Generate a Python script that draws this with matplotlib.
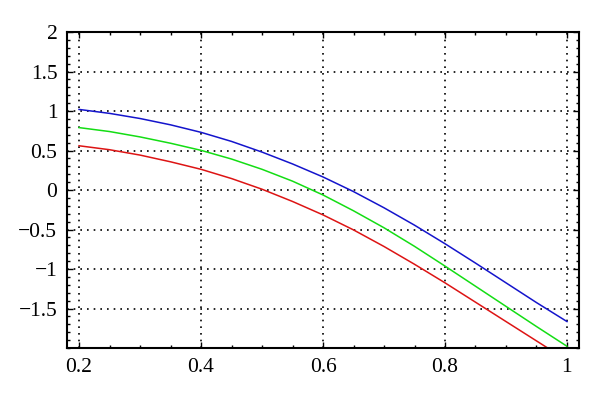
import numpy as np
import matplotlib
matplotlib.use("Agg")
from matplotlib import pyplot as plt
from matplotlib.ticker import MultipleLocator

# values
x = [0.2, 0.25, 0.3, 0.35, 0.4, 0.45, 0.5, 0.55, 0.6, 0.65, 0.7, 0.75, 0.8, 0.85, 0.9, 0.95, 1.0]
blue = [1.02, 0.97, 0.905, 0.825, 0.73, 0.615, 0.48, 0.33, 0.165, -0.02, -0.225, -0.445, -0.68, -0.925, -1.175, -1.425, -1.665]
green = [0.79, 0.74, 0.672, 0.592, 0.502, 0.392, 0.262, 0.112, -0.063, -0.263, -0.478, -0.713, -0.963, -1.218, -1.473, -1.728, -1.978]
red = [0.56, 0.51, 0.442, 0.357, 0.262, 0.145, 0.01, -0.145, -0.315, -0.505, -0.715, -0.94, -1.175, -1.42, -1.665, -1.91, -2.155]

xticks = [0.2, 0.4, 0.6, 0.8, 1.0]
xlabels = ["0.2", "0.4", "0.6", "0.8", "1"]
yticks = [-1.5, -1, -0.5, 0, 0.5, 1, 1.5, 2]
ylabels = ["\u22121.5", "\u22121", "\u22120.5", "0", "0.5", "1", "1.5", "2"]

plt.rcParams['font.family'] = ['Liberation Serif', 'DejaVu Serif']

fig = plt.figure(figsize=(6, 3.98), dpi=100)
ax = fig.add_axes([0.1117, 0.1256, 0.8533, 0.794])

ax.plot(x, blue, color='#1414cc', lw=1.1)
ax.plot(x, green, color='#14dd14', lw=1.1)
ax.plot(x, red, color='#dd1414', lw=1.1)

ax.set_xlim(0.1803, 1.0197)
ax.set_ylim(-2.0, 2.0)
ax.set_xticks(xticks)
ax.set_xticklabels(xlabels)
ax.set_yticks(yticks)
ax.set_yticklabels(ylabels)
ax.xaxis.set_minor_locator(MultipleLocator(0.05))
ax.yaxis.set_minor_locator(MultipleLocator(0.1))

ax.tick_params(which='both', direction='in', top=True, right=True, colors='black',
               labelsize=15.5)
ax.tick_params(which='major', length=4, width=1)
ax.tick_params(which='minor', length=2.5, width=1)
ax.tick_params(axis='x', pad=7)
ax.tick_params(axis='y', pad=7)

ax.grid(True, which='major', color='black', linestyle=(0, (1, 3)), lw=1.2)
for s in ax.spines.values():
    s.set_linewidth(1.5)
    s.set_color('black')

fig.savefig('out.png', dpi=100)
